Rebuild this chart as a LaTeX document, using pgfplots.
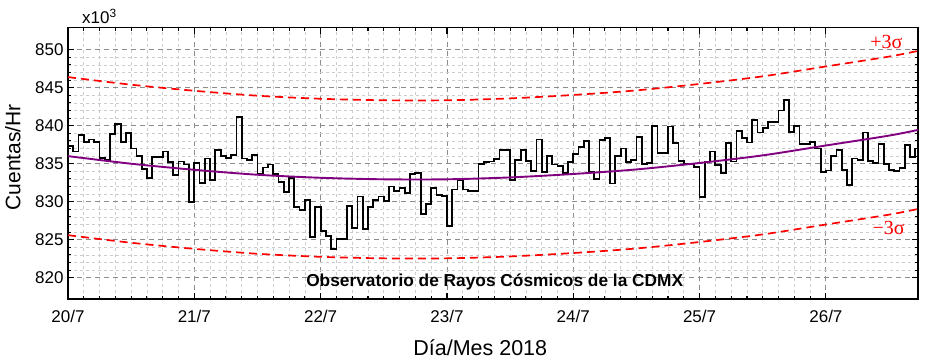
\documentclass[border=0pt]{standalone}
\usepackage{pgfplots}
\pgfplotsset{compat=1.18}
\usepackage{fontspec}
\setmainfont{Liberation Sans}
\newfontfamily\serifgreek{Liberation Serif}
\definecolor{fitpurple}{RGB}{128,0,128}
\begin{document}
\begin{tikzpicture}
\path[use as bounding box] (-68pt,-65pt) rectangle (861pt,299pt);
\begin{axis}[at={(0,0)}, anchor=south west, scale only axis,
  width=850pt, height=271.3pt,
  xmin=0, xmax=161.5, ymin=817.2, ymax=852.9,
  xtick={0,24,...,144}, xticklabels={20/7,21/7,22/7,23/7,24/7,25/7,26/7},
  minor x tick num=7,
  ytick={820,825,...,850}, minor y tick num=4,
  tick align=inside, major tick length=6pt, minor tick length=3.5pt,
  tick style={black, line width=1.1pt},
  grid=both,
  major grid style={black!45, dash pattern=on 5pt off 4pt, line width=0.9pt},
  minor grid style={black!20, dash pattern=on 3pt off 3pt, line width=0.6pt},
  axis line style={line width=1.5pt},
  /pgf/number format/assume math mode=true,
  /pgf/number format/1000 sep={},
  yticklabel style={font=\fontsize{17}{17}\selectfont, xshift=-1pt},
  xticklabel style={font=\fontsize{17}{17}\selectfont, yshift=-8pt},
  ylabel={Cuentas/Hr},
  ylabel style={font=\fontsize{21}{21}\selectfont, at={(axis description cs:-0.065,0.523)}, anchor=center},
  xlabel={Día/Mes 2018},
  xlabel style={font=\fontsize{21.5}{21.5}\selectfont, at={(axis description cs:0.485,-0.18)}, anchor=center},
  clip=true,
]
% +3 sigma
\addplot[red, line width=1.7pt, dash pattern=on 8pt off 5pt, smooth] coordinates {
(0,846.4) (12,845.4) (24,844.6) (36,843.95) (48,843.55) (60,843.35) (72,843.35) (84,843.6)
(96,844.05) (108,844.65) (120,845.5) (132,846.5) (144,847.8) (156,849.1) (161.5,849.85)};
% -3 sigma
\addplot[red, line width=1.7pt, dash pattern=on 8pt off 5pt, smooth] coordinates {
(0,825.6) (12,824.6) (24,823.8) (36,823.15) (48,822.75) (60,822.55) (72,822.55) (84,822.8)
(96,823.25) (108,823.85) (120,824.7) (132,825.7) (144,827.0) (156,828.3) (161.5,829.05)};
% hourly counts
\addplot[black, line width=1.8pt, const plot] coordinates {
(0,837.3) (1,836.6) (2,838.8) (3,837.9) (4,838.2) (5,837.9) (6,835.8) (7,835.5) (8,838.9) (9,840.2)
(10,837.9) (11,839.0) (12,837.0) (13,836.0) (14,834.3) (15,833.1) (16,835.9) (17,835.9) (18,836.6) (19,835.2)
(20,833.5) (21,835.3) (22,834.9) (23,830.0) (24,835.1) (25,832.5) (26,835.7) (27,832.9) (28,836.8) (29,836.0)
(30,835.8) (31,836.2) (32,841.1) (33,835.7) (34,835.5) (35,836.2) (36,833.7) (37,834.5) (38,834.9) (39,833.7)
(40,832.6) (41,831.3) (42,833.1) (43,829.3) (44,828.9) (45,830.2) (46,825.4) (47,829.3) (48,826.1) (49,825.5)
(50,823.8) (51,825.1) (52,825.1) (53,829.4) (54,826.5) (55,830.7) (56,826.4) (57,829.3) (58,830.2) (59,830.7)
(60,830.1) (61,832.0) (62,831.4) (63,831.8) (64,831.2) (65,833.6) (66,833.8) (67,828.4) (68,829.7) (69,831.8)
(70,830.9) (71,830.8) (72,826.8) (73,831.6) (74,832.8) (75,831.6) (76,831.4) (77,831.4) (78,835.0) (79,835.2)
(80,835.3) (81,835.6) (82,836.8) (83,836.8) (84,832.9) (85,835.5) (86,836.8) (87,835.4) (88,834.0) (89,838.2)
(90,833.9) (91,836.0) (92,834.9) (93,834.7) (94,833.8) (95,835.2) (96,836.3) (97,837.2) (98,838.0) (99,833.9)
(100,833.0) (101,838.1) (102,838.4) (103,832.4) (104,836.0) (105,837.0) (106,835.2) (107,835.5) (108,838.5) (109,835.0)
(110,835.1) (111,840.0) (112,836.4) (113,836.4) (114,839.9) (115,837.7) (116,835.4) (117,835.0) (118,835.0) (119,834.6)
(120,830.6) (121,835.3) (122,836.6) (123,834.8) (124,833.8) (125,837.7) (126,835.3) (127,839.3) (128,838.4) (129,837.8)
(130,840.8) (131,839.1) (132,839.7) (133,840.5) (134,840.5) (135,842.0) (136,843.4) (137,839.2) (138,840.0) (139,837.6)
(140,837.6) (141,837.9) (142,837.0) (143,833.9) (144,834.1) (145,836.0) (146,836.8) (147,834.2) (148,832.2) (149,835.7)
(150,835.5) (151,839.1) (152,835.4) (153,835.1) (154,837.6) (155,835.0) (156,834.2) (157,834.0) (158,834.4) (159,837.5)
(160,835.9) (161,837.0) (162,837.0)};
% fit
\addplot[fitpurple, line width=1.9pt, smooth] coordinates {
(0,836.0) (12,835.0) (24,834.2) (36,833.55) (48,833.15) (60,832.95) (72,832.95) (84,833.2)
(96,833.65) (108,834.25) (120,835.1) (132,836.1) (144,837.4) (156,838.7) (161.5,839.45)};
\node[font=\bfseries\fontsize{17.3}{17.3}\selectfont] at (axis description cs:0.502,0.063) {Observatorio de Rayos Cósmicos de la CDMX};
\node[red, font=\serifgreek\fontsize{20}{20}\selectfont] at (axis cs:155.5,851.0) {+3σ};
\node[red, font=\serifgreek\fontsize{20}{20}\selectfont] at (axis cs:155.9,826.6) {−3σ};
\end{axis}
\node[anchor=base west, font=\fontsize{17}{17}\selectfont, inner sep=0pt] at (14pt,275pt) {x10\textsuperscript{3}};
\end{tikzpicture}
\end{document}
